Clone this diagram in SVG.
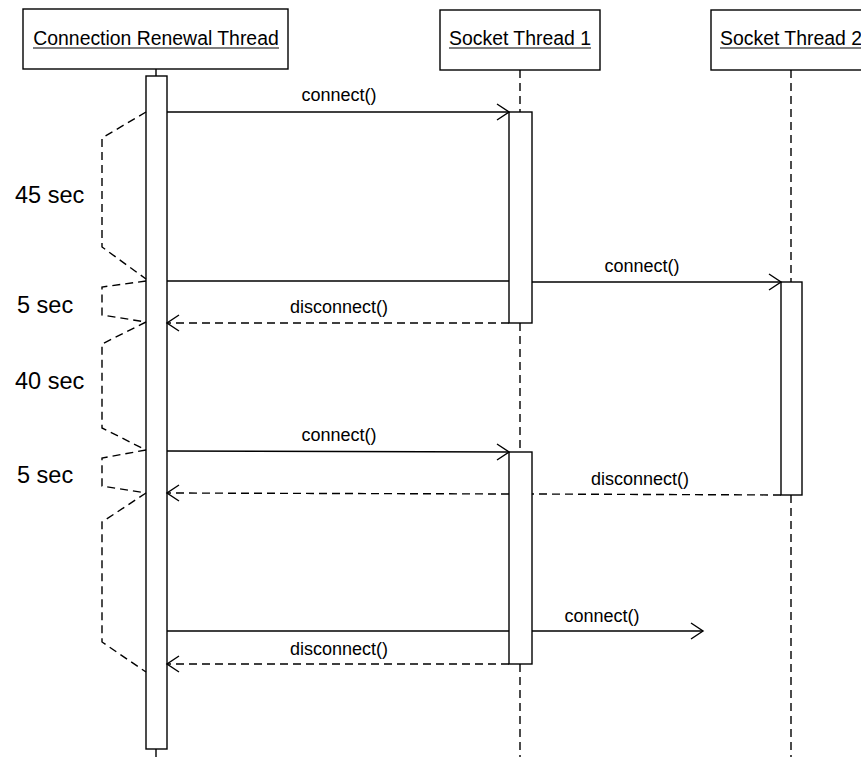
<svg xmlns="http://www.w3.org/2000/svg" width="861" height="757" viewBox="0 0 861 757">
  <style>
    .box { fill: #fff; stroke: #000; stroke-width: 1.4; }
    .bar { fill: #fff; stroke: #000; stroke-width: 1.4; }
    .title { font-family: "Liberation Sans", Arial, sans-serif; font-size: 19.4px; text-anchor: middle; fill: #000; }
    .uline { stroke: #000; stroke-width: 1.2; }
    .life { stroke: #000; stroke-width: 1.4; stroke-dasharray: 8 5; fill: none; }
    .msg { stroke: #000; stroke-width: 1.4; fill: none; }
    .ret { stroke: #000; stroke-width: 1.4; fill: none; stroke-dasharray: 8 5; }
    .head { stroke: #000; stroke-width: 1.4; fill: none; }
    .lbl { font-family: "Liberation Sans", Arial, sans-serif; font-size: 18px; text-anchor: middle; fill: #000; }
    .time { font-family: "Liberation Sans", Arial, sans-serif; font-size: 23.5px; fill: #000; }
    .span { stroke: #000; stroke-width: 1.4; fill: none; stroke-dasharray: 8 5; }
  </style>
  <rect width="861" height="757" fill="#fff"/>

  <!-- lifeline: Connection Renewal Thread -->
  <g id="crt">
    <rect class="box" x="23" y="9" width="265" height="60"/>
    <text class="title" x="156" y="45">Connection Renewal Thread</text>
    <line class="uline" x1="33" y1="48" x2="279" y2="48"/>
    <line class="msg" x1="156" y1="69" x2="156" y2="76"/>
    <rect class="bar" x="146" y="76" width="21" height="673"/>
    <line class="msg" x1="156" y1="749" x2="156" y2="757"/>
  </g>

  <!-- lifeline: Socket Thread 1 -->
  <g id="st1">
    <rect class="box" x="440" y="10" width="160" height="60"/>
    <text class="title" x="520" y="45">Socket Thread 1</text>
    <line class="uline" x1="449" y1="48" x2="591" y2="48"/>
    <line class="life" x1="520" y1="70" x2="520" y2="112"/>
    <line class="life" x1="520" y1="323" x2="520" y2="452"/>
    <line class="life" x1="520" y1="664" x2="520" y2="757"/>
    <rect class="bar" x="509" y="112" width="23" height="211"/>
    <rect class="bar" x="509" y="452" width="23" height="212"/>
  </g>

  <!-- lifeline: Socket Thread 2 -->
  <g id="st2">
    <rect class="box" x="711" y="10" width="160" height="60"/>
    <text class="title" x="791" y="45">Socket Thread 2</text>
    <line class="uline" x1="720" y1="48" x2="862" y2="48"/>
    <line class="life" x1="791" y1="70" x2="791" y2="282"/>
    <line class="life" x1="791" y1="495" x2="791" y2="757"/>
    <rect class="bar" x="781" y="282" width="21" height="213"/>
  </g>

  <!-- messages -->
  <g id="messages">
    <!-- connect() to Socket Thread 1 -->
    <line class="msg" x1="167" y1="112" x2="509" y2="112"/>
    <polyline class="head" points="497,104 509,112 497,120"/>
    <text class="lbl" x="339" y="101">connect()</text>

    <!-- connect() to Socket Thread 2 -->
    <line class="msg" x1="167" y1="281" x2="509" y2="281"/>
    <line class="msg" x1="532" y1="282" x2="781" y2="282"/>
    <polyline class="head" points="769,274 781,282 769,290"/>
    <text class="lbl" x="642" y="272">connect()</text>

    <!-- disconnect() from Socket Thread 1 -->
    <line class="ret" x1="509" y1="323" x2="167" y2="323"/>
    <polyline class="head" points="179,315 167,323 179,331"/>
    <text class="lbl" x="339" y="313">disconnect()</text>

    <!-- connect() to Socket Thread 1 again -->
    <line class="msg" x1="167" y1="451" x2="509" y2="452"/>
    <polyline class="head" points="497,444 509,452 497,460"/>
    <text class="lbl" x="339" y="441">connect()</text>

    <!-- disconnect() from Socket Thread 2 -->
    <line class="ret" x1="781" y1="495" x2="532" y2="494"/>
    <line class="ret" x1="509" y1="494" x2="167" y2="493"/>
    <polyline class="head" points="179,485 167,493 179,501"/>
    <text class="lbl" x="640" y="485">disconnect()</text>

    <!-- connect() onward -->
    <line class="msg" x1="167" y1="631" x2="509" y2="631"/>
    <line class="msg" x1="532" y1="631" x2="703" y2="631"/>
    <polyline class="head" points="691,623 703,631 691,639"/>
    <text class="lbl" x="602" y="622">connect()</text>

    <!-- disconnect() from Socket Thread 1 again -->
    <line class="ret" x1="509" y1="664" x2="167" y2="664"/>
    <polyline class="head" points="179,656 167,664 179,672"/>
    <text class="lbl" x="339" y="655">disconnect()</text>
  </g>

  <!-- timing brackets -->
  <g id="timing">
    <polyline class="span" points="146,112 102,138 102,247 146,279"/>
    <polyline class="span" points="146,281 102,287 102,315 146,322"/>
    <polyline class="span" points="146,322 102,344 102,428 146,450"/>
    <polyline class="span" points="146,450 102,458 102,486 146,493"/>
    <polyline class="span" points="146,493 102,522 102,642 146,672"/>
    <text class="time" x="15" y="203">45 sec</text>
    <text class="time" x="17" y="313">5 sec</text>
    <text class="time" x="15" y="389">40 sec</text>
    <text class="time" x="17" y="483">5 sec</text>
  </g>
</svg>
